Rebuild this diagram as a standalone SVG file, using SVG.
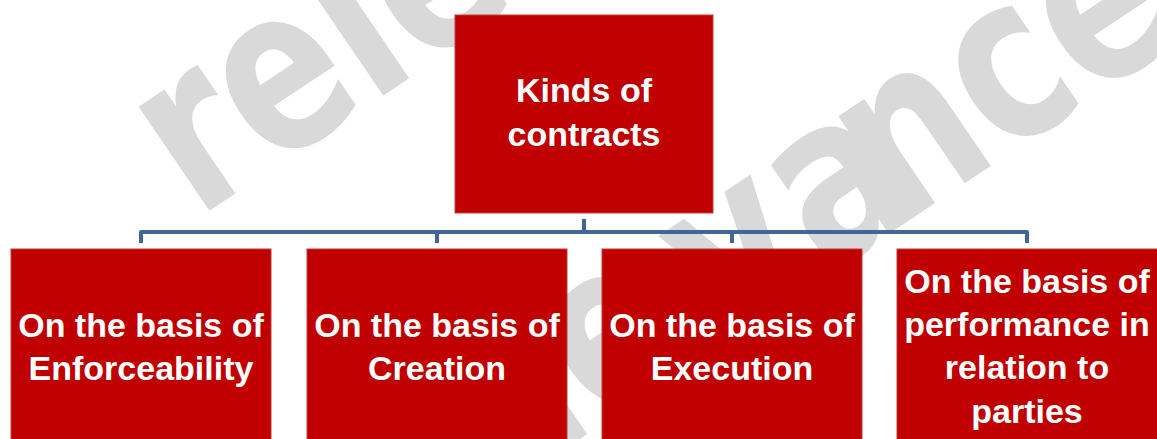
<svg xmlns="http://www.w3.org/2000/svg" width="1157" height="439" viewBox="0 0 1157 439">
  <style>
    .wm { font-family: "DejaVu Sans", Verdana, sans-serif; font-weight: bold; font-size: 100px; fill: #d9d9d9; }
    .box { fill: #c00000; stroke: #c83a3a; stroke-width: 1; }
    .lbl { font-family: "Liberation Sans", Arial, sans-serif; font-weight: bold; font-size: 34px; fill: #ffffff; text-anchor: middle; }
    .conn { fill: none; stroke: #41679a; stroke-width: 4; stroke-linejoin: round; }
  </style>
  <g id="watermark">
    <text class="wm" transform="matrix(1.483,-0.985,1.295,1.9,197,219)">relevance</text>
    <text class="wm" transform="matrix(1.483,-0.985,1.295,1.9,375,575)">rele<tspan dx="18">v</tspan><tspan dx="2">a</tspan><tspan dx="-20">nce</tspan></text>
  </g>
  <g id="connectors">
    <path class="conn" d="M584,219 V232"/>
    <path class="conn" d="M141,243 V232 H1027 V243"/>
    <path class="conn" d="M437,232 V243"/>
    <path class="conn" d="M732,232 V243"/>
  </g>
  <g id="node-root">
    <rect class="box" x="455" y="15" width="258" height="198"/>
    <text class="lbl" x="584" y="102">Kinds of</text>
    <text class="lbl" x="584" y="146">contracts</text>
  </g>
  <g id="node-enforceability">
    <rect class="box" x="11" y="249" width="260" height="195"/>
    <text class="lbl" x="141" y="337">On the basis of</text>
    <text class="lbl" x="141" y="380">Enforceability</text>
  </g>
  <g id="node-creation">
    <rect class="box" x="307" y="249" width="260" height="195"/>
    <text class="lbl" x="437" y="337">On the basis of</text>
    <text class="lbl" x="437" y="380">Creation</text>
  </g>
  <g id="node-execution">
    <rect class="box" x="602" y="249" width="260" height="195"/>
    <text class="lbl" x="732" y="337">On the basis of</text>
    <text class="lbl" x="732" y="380">Execution</text>
  </g>
  <g id="node-performance">
    <rect class="box" x="897" y="249" width="265" height="195"/>
    <text class="lbl" x="1027" y="293">On the basis of</text>
    <text class="lbl" x="1027" y="336">performance in</text>
    <text class="lbl" x="1027" y="379">relation to</text>
    <text class="lbl" x="1027" y="423">parties</text>
  </g>
</svg>
